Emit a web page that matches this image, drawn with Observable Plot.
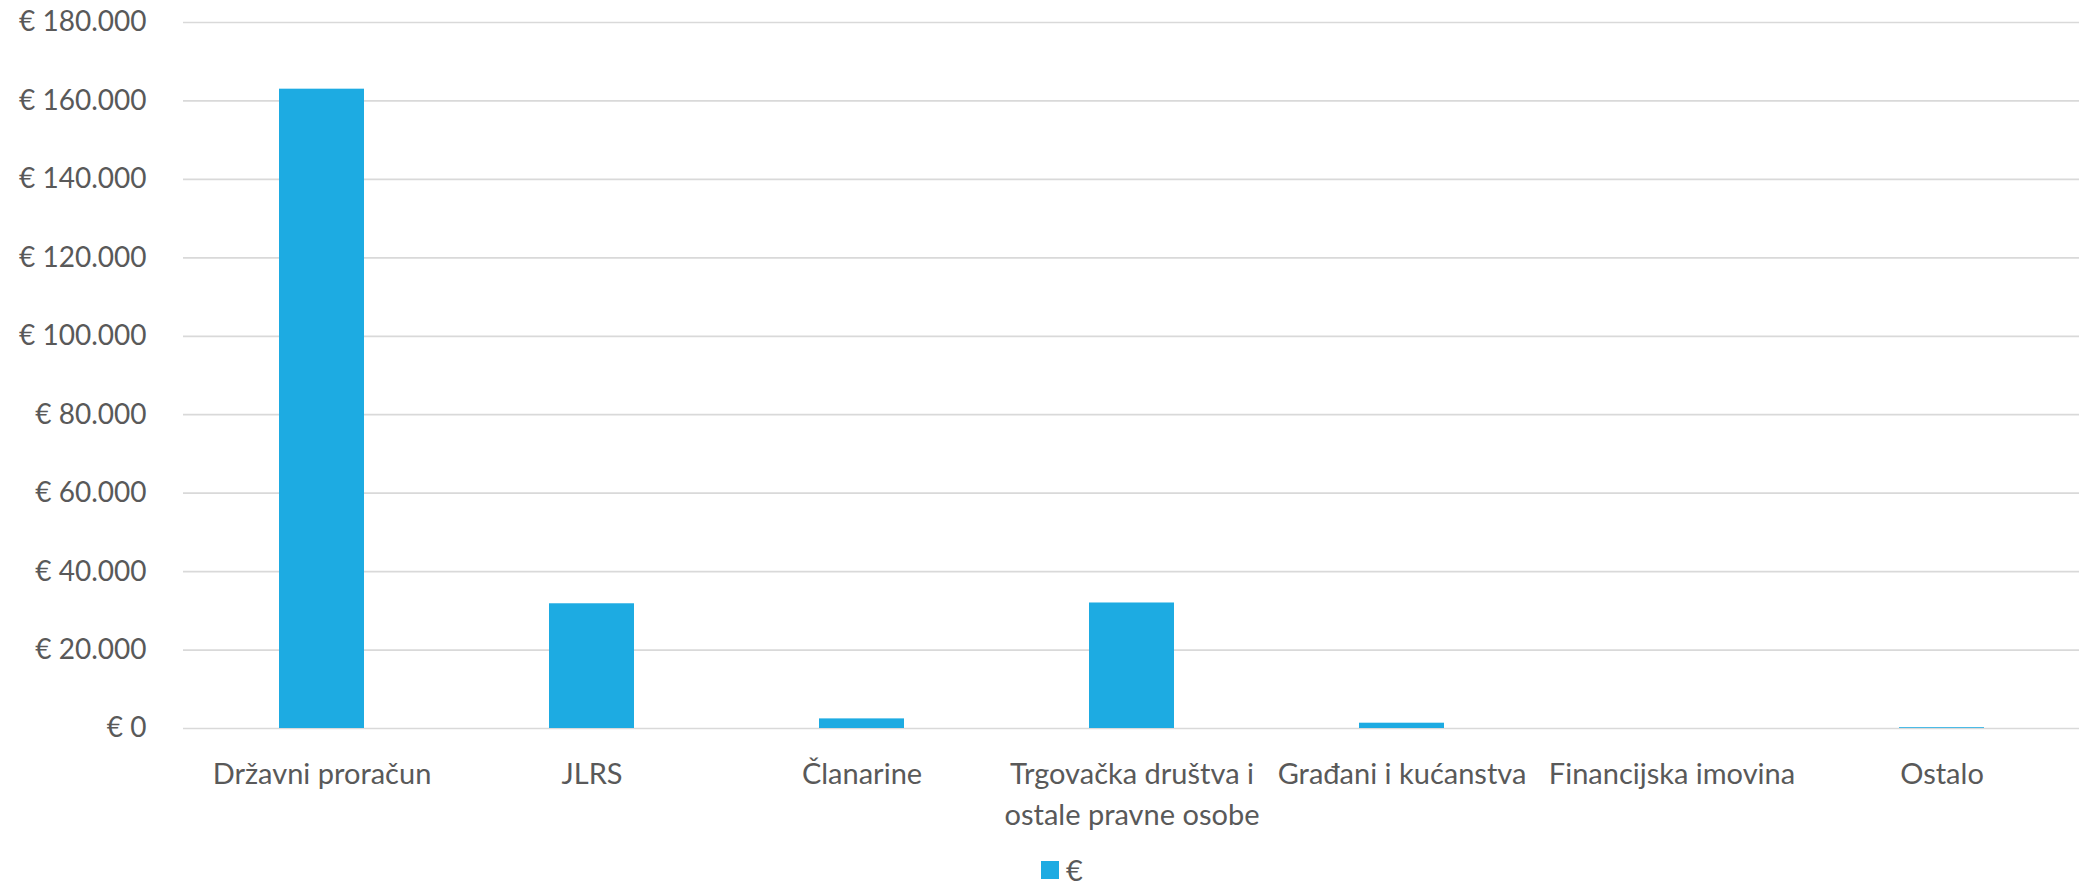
<!DOCTYPE html>
<html>
<head>
<meta charset="utf-8">
<script src="https://cdn.jsdelivr.net/npm/d3@7"></script>
<script src="https://cdn.jsdelivr.net/npm/@observablehq/plot@0.6"></script>
<style>
  html, body { margin: 0; padding: 0; background: #fff; }
  body { width: 2079px; height: 883px; position: relative; overflow: hidden; font-family: Lato, "Noto Sans", sans-serif; }
  #legend { position: absolute; left: 1041px; top: 852px; display: flex; align-items: center; gap: 7px; font-size: 29px; color: #595959; }
  #legend .sw { width: 18px; height: 18px; background: #1DABE2; }
</style>
</head>
<body>
<div id="chart"></div>
<div id="legend"><div class="sw"></div><span>€</span></div>
<script>
const categories = [
  "Državni proračun",
  "JLRS",
  "Članarine",
  "Trgovačka društva i\nostale pravne osobe",
  "Građani i kućanstva",
  "Financijska imovina",
  "Ostalo"
];
const values = [163000, 31800, 2450, 32000, 1350, 0, 200];
const yTicks = [0, 20000, 40000, 60000, 80000, 100000, 120000, 140000, 160000, 180000];
const seriesName = "€";

const data = categories.map((c, i) => ({category: c, value: values[i]}));
const locale = d3.formatLocale({decimal: ",", thousands: ".", grouping: [3], currency: ["€ ", ""]});
const fmt = locale.format("$,.0f");

const chart = Plot.plot({
  width: 2079,
  height: 848,
  marginTop: 22,
  marginBottom: 120,
  marginLeft: 183,
  marginRight: 0,
  style: {fontFamily: "Lato, 'Noto Sans', sans-serif", fontSize: "28px", color: "#595959", background: "#fff"},
  x: {domain: categories, paddingInner: 0.686, paddingOuter: 0.343, label: null},
  y: {domain: [0, 180000], label: null},
  marks: [
    Plot.gridY(yTicks, {stroke: "#d9d9d9", strokeOpacity: 1, strokeWidth: 1.7}),
    Plot.barY(data, {x: "category", y: "value", fill: "#1DABE2"}),
    Plot.axisY(yTicks, {tickSize: 0, tickPadding: 37, tickFormat: fmt, fill: "#595959", fontSize: 28}),
    Plot.axisX({tickSize: 0, tickPadding: 27, fill: "#595959", fontSize: 29, lineHeight: 1.4, textOverflow: null, lineWidth: Infinity})
  ]
});
document.getElementById("chart").appendChild(chart);
</script>
</body>
</html>
